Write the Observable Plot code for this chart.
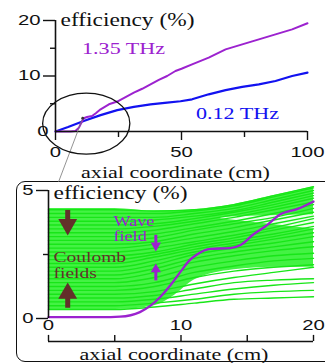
<!DOCTYPE html>
<html><head><meta charset="utf-8">
<script src="https://cdn.jsdelivr.net/npm/d3@7"></script>
<script src="https://cdn.jsdelivr.net/npm/@observablehq/plot@0.6"></script>
<style>
html,body{margin:0;padding:0;background:#fff;}
#wrap{position:relative;width:325px;height:363px;overflow:hidden;background:#fff;}
#top{position:absolute;left:0;top:0;}
#bottom{position:absolute;left:0;top:181px;}
#box{position:absolute;left:16px;top:181px;width:340px;height:181px;border:1.6px solid #111;border-radius:9px;box-sizing:border-box;}
</style></head><body>
<div id="wrap"><div id="box"></div><div id="top"></div><div id="bottom"></div></div>
<script>
// ---------- data: top panel ----------
const seriesNames = ["1.35 THz", "0.12 THz"];
const x135 = [0, 6, 7.9, 9.3, 10.5, 11.2, 12.5, 14.5, 16, 17.9, 21.2, 24.5, 27.8, 31.1, 34.4, 37.7, 41, 44.3, 47.6, 50, 54.2, 60.8, 67.5, 74.1, 80.7, 87.3, 93.9, 100];
const y135 = [0, 0, 0.1, 0.7, 1.8, 2.4, 2.6, 2.8, 3.3, 4.0, 4.9, 5.4, 6.2, 7.0, 7.7, 8.5, 9.3, 10.0, 10.9, 11.3, 12.1, 13.3, 14.8, 15.7, 16.6, 17.5, 18.4, 19.5];
const x012 = [0, 5, 11.2, 17.9, 24.5, 31.1, 37.7, 44.3, 49.6, 54.2, 60.8, 67.5, 74.1, 80.7, 87.3, 93.9, 100];
const y012 = [0, 0.8, 1.9, 2.95, 3.85, 4.45, 4.9, 5.2, 5.45, 5.8, 6.7, 7.45, 8.05, 8.5, 9.1, 10.0, 10.6];
const topXTicks = [0, 50, 100];
const topXMinor = [25, 75];
const topYTicks = [10, 20];
const topYZero = [0];
const topYMinor = [5, 15];
const axisLabelX = "axial coordinate (cm)";
const axisLabelY = "efficiency (%)";

// ---------- data: bottom panel ----------
const zoomX = [0, 2, 4, 5.4, 6.9, 7.7, 8.45, 9.2, 10, 10.6, 11.2, 12.2, 13.7, 14.5, 15.5, 16.5, 17.5, 18.8, 20];
const zoomY = [0.05, 0.05, 0.05, 0.07, 0.25, 0.5, 0.85, 1.3, 1.85, 2.25, 2.5, 2.72, 2.75, 2.87, 3.3, 3.65, 4.07, 4.28, 4.57];
// dense part of the green particle band (lower / upper edge)
const denseX  = [0, 5, 8, 9.5, 11, 14, 17, 20];
const denseLo = [0.35, 0.35, 0.5, 0.9, 1.5, 1.9, 2.0, 2.0];
const denseHi = [4.3, 4.3, 4.2, 4.2, 4.25, 4.45, 4.8, 5.15];
// white wedge inside the band (upper right)
const gapX  = [13, 16, 20];
const gapLo = [3.9, 3.72, 3.5];
const gapHi = [3.95, 4.0, 4.05];
// individual green trajectories
const greenX = [0, 5, 8, 11, 14, 17, 20];
const greenTracks = [
 [0.35,0.35,0.45,0.6,0.75,0.8,0.85],
 [0.5,0.5,0.6,0.75,0.95,1.05,1.1],
 [0.65,0.65,0.75,0.95,1.15,1.3,1.4],
 [0.8,0.8,0.9,1.15,1.4,1.5,1.55],
 [0.95,0.95,1.05,1.35,1.6,1.8,2.0],
 [1.1,1.1,1.25,1.6,1.85,2.0,2.1],
 [1.25,1.25,1.4,1.8,2.05,2.25,2.35],
 [1.4,1.4,1.6,2.0,2.25,2.45,2.55],
 [1.55,1.55,1.8,2.2,2.45,2.65,2.8],
 [1.7,1.7,1.95,2.35,2.6,2.8,3.0],
 [1.85,1.85,2.1,2.5,2.75,2.95,3.2],
 [2.0,2.0,2.25,2.6,2.85,3.1,3.35],
 [2.15,2.15,2.4,2.7,2.95,3.2,3.5],
 [2.3,2.3,2.5,2.8,3.05,3.3,3.6],
 [2.45,2.45,2.6,2.9,3.15,3.45,3.75],
 [2.6,2.6,2.75,3.0,3.25,3.55,3.9],
 [2.75,2.75,2.9,3.15,3.4,3.7,4.0],
 [2.9,2.9,3.0,3.3,3.55,3.85,4.15],
 [3.05,3.05,3.15,3.45,3.7,3.95,4.3],
 [3.2,3.2,3.3,3.55,3.8,4.1,4.45],
 [3.35,3.35,3.45,3.7,3.95,4.25,4.55],
 [3.5,3.5,3.6,3.8,4.05,4.35,4.7],
 [3.65,3.65,3.7,3.9,4.15,4.45,4.8],
 [3.8,3.8,3.85,4.0,4.2,4.55,4.9],
 [3.95,3.95,3.95,4.1,4.3,4.65,5.0],
 [4.1,4.1,4.1,4.2,4.4,4.75,5.1],
 [4.25,4.25,4.2,4.25,4.45,4.8,5.15]
];
const botXTicks = [0, 10, 20];
const botXAll = [0, 5, 10, 15, 20];
const botYTicks = [0, 5];
const botYMinor = [2.5];
const annWave = "Wave\nfield";
const annCoulomb = "Coulomb\nfields";

// ---------- styles ----------
const serif = "'Liberation Serif','Times New Roman',serif";
const sans = "'Liberation Sans',Arial,sans-serif";
const purple = "#9c22cf", blue = "#1212f0", brown = "#63302a", green = "#18e618", greenFill = "#44f244", ink = "#111";

const rows135 = x135.map((x, i) => ({x, y: y135[i]}));
const rows012 = x012.map((x, i) => ({x, y: y012[i]}));

const topChart = Plot.plot({
  width: 325, height: 181,
  marginLeft: 55, marginRight: 18, marginTop: 20, marginBottom: 50,
  x: {domain: [0, 100], axis: null},
  y: {domain: [0, 20], axis: null},
  style: {background: "transparent", fontFamily: sans, fontSize: "14px", color: ink, overflow: "visible"},
  marks: [
    Plot.line(rows012, {x: "x", y: "y", stroke: blue, strokeWidth: 2.2}),
    Plot.line(rows135, {x: "x", y: "y", stroke: purple, strokeWidth: 2}),
    Plot.ruleX([0], {stroke: ink, strokeWidth: 1.6}),
    Plot.ruleY([0], {stroke: ink, strokeWidth: 1.6}),
    Plot.axisY({ticks: topYTicks, tickSize: 12, strokeWidth: 1.4, tickFormat: () => "", label: null}),
    Plot.axisY({ticks: topYMinor, tickSize: 5, strokeWidth: 1.4, tickFormat: () => "", label: null}),
    Plot.axisX({ticks: topXTicks, tickSize: 9, strokeWidth: 1.4, tickFormat: () => "", label: null}),
    Plot.axisX({ticks: topXMinor, tickSize: 6, strokeWidth: 1.4, tickFormat: () => "", label: null}),
    Plot.text(topYTicks, {y: d => d, text: d => String(d), frameAnchor: "left", dx: -15, textAnchor: "end", lineAnchor: "middle", fontFamily: sans, fontSize: 14, fill: ink}),
    Plot.text(topYZero, {y: d => d, text: d => String(d), frameAnchor: "left", dx: -7, textAnchor: "end", lineAnchor: "middle", fontFamily: sans, fontSize: 14, fill: ink}),
    Plot.text(topXTicks, {x: d => d, text: d => String(d), frameAnchor: "bottom", dy: 21, lineAnchor: "middle", fontFamily: sans, fontSize: 14, fill: ink}),
    Plot.text([axisLabelY], {frameAnchor: "top-left", dx: 5, dy: 0, textAnchor: "start", lineAnchor: "middle", fontFamily: serif, fontSize: 18, fill: ink}),
    Plot.text([axisLabelX], {frameAnchor: "bottom", dx: -6, dy: 41, lineAnchor: "middle", fontFamily: serif, fontSize: 17, fill: ink}),
    Plot.text([seriesNames[0]], {x: () => 27, y: () => 14.9, lineAnchor: "middle", fontFamily: serif, fontSize: 17, fill: purple}),
    Plot.text([seriesNames[1]], {x: () => 72.2, y: () => 3.2, lineAnchor: "middle", fontFamily: serif, fontSize: 17, fill: blue}),
    Plot.link([0], {x1: () => 10.8, y1: () => 2.4, x2: () => 1.2, y2: () => -9.1, stroke: "#777", strokeWidth: 0.8}),
    Plot.dot([0], {x: () => 10.8, y: () => 2.4, r: 1.4, fill: "#333"})
  ]
});

// zoom ellipse drawn through the top chart's scales
{
  const sx = topChart.scale("x"), sy = topChart.scale("y");
  const cx = 12.4, cy = 1.33, rx = 17.3, ry = 5.5;
  d3.select(topChart).append("ellipse")
    .attr("cx", sx.apply(cx)).attr("cy", sy.apply(cy))
    .attr("rx", sx.apply(cx + rx) - sx.apply(cx))
    .attr("ry", sy.apply(cy) - sy.apply(cy + ry))
    .attr("fill", "none").attr("stroke", ink).attr("stroke-width", 1.3);
}

const greenRows = [];
greenTracks.forEach((tr, k) => tr.forEach((v, i) => greenRows.push({track: k, x: greenX[i], y: v})));
const denseRows = denseX.map((x, i) => ({x, lo: denseLo[i], hi: denseHi[i]}));
const gapRows = gapX.map((x, i) => ({x, lo: gapLo[i], hi: gapHi[i]}));
const zoomRows = zoomX.map((x, i) => ({x, y: zoomY[i]}));

const bottomChart = Plot.plot({
  width: 325, height: 182,
  marginLeft: 48, marginRight: 12, marginTop: 9, marginBottom: 45,
  x: {domain: [0, 20], axis: null},
  y: {domain: [0, 5], axis: null},
  style: {background: "transparent", fontFamily: sans, fontSize: "14px", color: ink, overflow: "visible"},
  marks: [
    Plot.areaY(denseRows, {x: "x", y1: "lo", y2: "hi", fill: greenFill, curve: "monotone-x"}),
    Plot.areaY(gapRows, {x: "x", y1: "lo", y2: "hi", fill: "white", fillOpacity: 0.9, curve: "monotone-x"}),
    Plot.line(greenRows, {x: "x", y: "y", z: "track", stroke: green, strokeWidth: 1.4, curve: "monotone-x"}),
    // Coulomb field arrows (brown)
    Plot.ruleX([0], {x: () => 1.45, y1: () => 4.22, y2: () => 3.65, stroke: brown, strokeWidth: 5}),
    Plot.dot([0], {x: () => 1.45, y: () => 3.67, symbol: "triangle", rotate: 180, r: 7, fill: brown}),
    Plot.ruleX([0], {x: () => 1.45, y1: () => 0.4, y2: () => 1.0, stroke: brown, strokeWidth: 5}),
    Plot.dot([0], {x: () => 1.45, y: () => 0.98, symbol: "triangle", r: 7, fill: brown}),
    // wave field arrows (purple)
    Plot.ruleX([0], {x: () => 8.1, y1: () => 3.25, y2: () => 2.85, stroke: purple, strokeWidth: 3}),
    Plot.dot([0], {x: () => 8.1, y: () => 2.85, symbol: "triangle", rotate: 180, r: 3.8, fill: purple}),
    Plot.ruleX([0], {x: () => 8.1, y1: () => 1.47, y2: () => 1.92, stroke: purple, strokeWidth: 3}),
    Plot.dot([0], {x: () => 8.1, y: () => 1.92, symbol: "triangle", r: 3.8, fill: purple}),
    Plot.text([annCoulomb], {x: () => 0.38, y: () => 2.1, textAnchor: "start", lineAnchor: "middle", lineHeight: 1.07, fontFamily: serif, fontSize: 15, fill: brown}),
    Plot.text([annWave], {x: () => 4.9, y: () => 3.52, textAnchor: "start", lineAnchor: "middle", lineHeight: 1.14, fontFamily: serif, fontSize: 14, fill: purple}),
    Plot.line(zoomRows, {x: "x", y: "y", stroke: purple, strokeWidth: 2.3, curve: "monotone-x"}),
    // axes
    Plot.ruleX([0], {stroke: ink, strokeWidth: 1.6}),
    Plot.axisY({ticks: botYTicks, tickSize: 12, strokeWidth: 1.4, tickFormat: () => "", label: null}),
    Plot.axisY({ticks: botYMinor, tickSize: 5, strokeWidth: 1.4, tickFormat: () => "", label: null}),
    Plot.text(botYTicks, {y: d => d, text: d => String(d), frameAnchor: "left", dx: -15, textAnchor: "end", lineAnchor: "middle", fontFamily: sans, fontSize: 14, fill: ink}),
    Plot.ruleY([0], {dy: 23, stroke: ink, strokeWidth: 1.6}),
    Plot.ruleX(botXAll, {x: d => d, y1: () => -0.9, y2: () => -0.66, stroke: ink, strokeWidth: 1.4}),
    Plot.text(botXTicks, {x: d => d, text: d => String(d), frameAnchor: "bottom", dy: 7, lineAnchor: "middle", fontFamily: sans, fontSize: 14, fill: ink}),
    Plot.text([axisLabelY], {frameAnchor: "top-left", dx: 5, dy: 3, textAnchor: "start", lineAnchor: "middle", fontFamily: serif, fontSize: 18, fill: ink}),
    Plot.text([axisLabelX], {frameAnchor: "bottom", dx: -7, dy: 36, lineAnchor: "middle", fontFamily: serif, fontSize: 17, fill: ink})
  ]
});

// the reference figure is horizontally stretched: widen glyphs about their anchors
function stretch(svg) {
  svg.querySelectorAll("text").forEach(t => {
    if (!t.textContent.trim()) return;
    const s = /^[0-9]+$/.test(t.textContent.trim()) ? 1.45 : 1.3;
    let tr = t.getAttribute("transform") || "";
    const x = t.getAttribute("x");
    if (x != null && !/em$/.test(x)) { tr += ` translate(${x},0)`; t.removeAttribute("x"); }
    t.setAttribute("transform", (tr + ` scale(${s},1)`).trim());
  });
}
stretch(topChart); stretch(bottomChart);
document.getElementById("top").appendChild(topChart);
document.getElementById("bottom").appendChild(bottomChart);
</script>
</body></html>
